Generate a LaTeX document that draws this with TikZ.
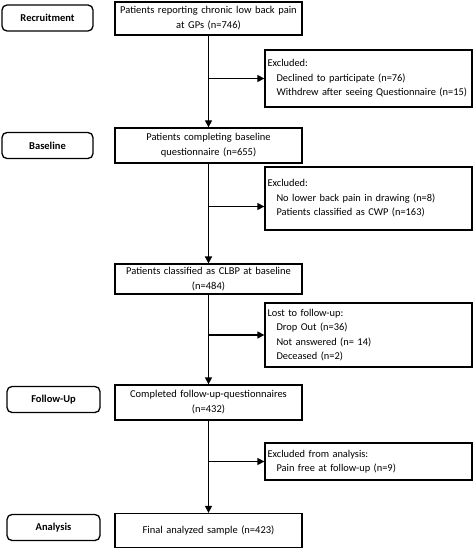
\documentclass[tikz,border=0pt]{standalone}
\usepackage{fontspec}
\setmainfont{Carlito}
\usepackage{tikz}
\usetikzlibrary{arrows.meta, positioning, calc}
\usepackage{xcolor}
\definecolor{boxline}{HTML}{000000}

\tikzset{
  stagebox/.style={rectangle, rounded corners=5pt, draw=boxline, line width=1.3pt,
    minimum width=91pt, minimum height=26pt, inner sep=2pt,
    font=\fontsize{10.5}{15}\selectfont\bfseries},
  flowbox/.style={rectangle, draw=boxline, line width=1.3pt, minimum width=187pt,
    text width=181pt, align=center, inner sep=3pt,
    font=\fontsize{10.5}{15}\selectfont},
  exclbox/.style={rectangle, draw=boxline, line width=1.3pt, minimum width=207pt,
    text width=202pt, align=left, inner xsep=2.5pt, inner ysep=4pt,
    font=\fontsize{10.4}{14.5}\selectfont},
  flow/.style={line width=1.3pt, -{Triangle[length=7pt,width=7pt]}},
}
\newcommand{\sub}{\hspace*{9pt}}

\begin{document}
\begin{tikzpicture}[x=1pt, y=-1pt]
\useasboundingbox (0,0) rectangle (473,548);

% study stages
\node[stagebox] (recruit) at (47.5,18) {Recruitment};
\node[stagebox] (baseline) at (47.5,145.5) {Baseline};
\node[stagebox, minimum width=93pt] (followup) at (53.5,399.5) {Follow-Up};
\node[stagebox, minimum width=93pt] (analysis) at (53.5,527.5) {Analysis};

% main flow
\node[flowbox, minimum height=33pt] (reporting) at (208.5,18.5)
  {Patients reporting chronic low back pain\\at GPs (n=746)};
\node[flowbox, minimum height=35pt] (completing) at (208.5,145.5)
  {Patients completing baseline\\questionnaire (n=655)};
\node[flowbox, minimum height=26pt] (clbp) at (208.5,279)
  {Patients classified as CLBP at baseline\\(n=484)};
\node[flowbox, minimum height=35pt] (completed) at (208.5,402.5)
  {Completed follow-up-questionnaires\\(n=432)};
\node[flowbox, minimum height=34pt] (final) at (208.5,530.5)
  {Final analyzed sample (n=423)};

% exclusions
\node[exclbox, minimum height=57pt] (declined) at (368.5,78.5)
  {Excluded:\\\sub Declined to participate (n=76)\\\sub Withdrew after seeing Questionnaire (n=15)};
\node[exclbox, minimum height=63pt] (nopain) at (368.5,198.5)
  {Excluded:\\\sub No lower back pain in drawing (n=8)\\\sub Patients classified as CWP (n=163)};
\node[exclbox, minimum height=64pt] (lost) at (368.5,335)
  {Lost to follow-up:\\\sub Drop Out (n=36)\\\sub Not answered (n= 14)\\\sub Deceased (n=2)};
\node[exclbox, minimum height=37pt] (painfree) at (368.5,461.5)
  {Excluded from analysis:\\\sub Pain free at follow-up (n=9)};
\coordinate (nopainin) at ([yshift=-8pt]nopain.west);

\draw[flow] (reporting) -- (completing);
\draw[flow] (completing) -- (clbp);
\draw[flow] (clbp) -- (completed);
\draw[flow] (completed) -- (final);

\draw[flow] (reporting.south |- declined.west) -- (declined.west);
\draw[flow] (completing.south |- nopainin) -- (nopainin);
\draw[flow] (clbp.south |- lost.west) -- (lost.west);
\draw[flow] (completed.south |- painfree.west) -- (painfree.west);
\end{tikzpicture}
\end{document}
